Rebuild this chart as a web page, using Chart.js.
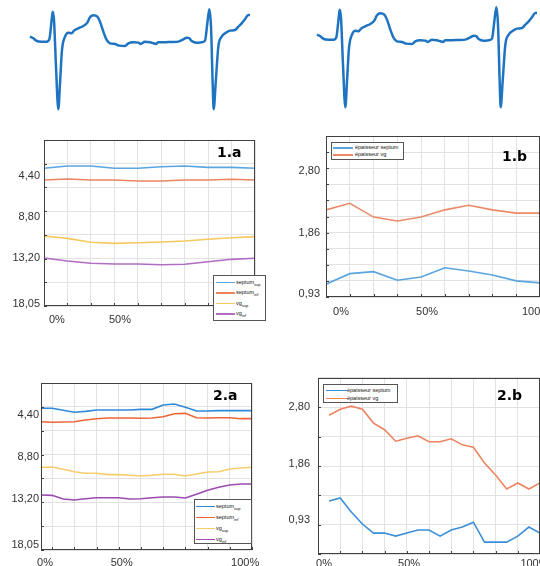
<!DOCTYPE html>
<html>
<head>
<meta charset="utf-8">
<script src="https://cdn.jsdelivr.net/npm/chart.js@4.4.0/dist/chart.umd.min.js"></script>
<style>
  body { margin: 0; background: #fff; overflow: hidden; }
  #page { position: relative; width: 540px; height: 566px; overflow: hidden; }
  .box { position: absolute; }
  .box canvas { display: block; }
  .tag { position: absolute; font: bold 14px 'DejaVu Sans'; line-height: 14px; color: #000; }
  .legend { position: absolute; box-sizing: border-box; background: #fff; border: 1px solid #555; }
  .legend .row { display: flex; align-items: center; white-space: nowrap; }
  .legend .sw { display: inline-block; height: 1.5px; }
  .legend .txt { font: 5.5px 'Liberation Sans'; line-height: 1; color: #111; }
  .legend sub { font-size: 4px; vertical-align: -1.5px; line-height: 0; }
</style>
</head>
<body>
<div id="page">
  <div class="box" style="left:20px;top:0"><canvas id="ecgLeft" width="240" height="120"></canvas></div>
  <div class="box" style="left:307px;top:-2px"><canvas id="ecgRight" width="240" height="120"></canvas></div>
  <div class="box" style="left:0;top:130px"><canvas id="chart1a" width="270" height="200"></canvas></div>
  <div class="box" style="left:270px;top:130px"><canvas id="chart1b" width="280" height="200"></canvas></div>
  <div class="box" style="left:0;top:370px"><canvas id="chart2a" width="270" height="210"></canvas></div>
  <div class="box" style="left:270px;top:370px"><canvas id="chart2b" width="280" height="210"></canvas></div>
  <div class="tag" style="left:217px;top:145px">1.a</div>
  <div class="tag" style="left:502px;top:149px">1.b</div>
  <div class="tag" style="left:213px;top:388px">2.a</div>
  <div class="tag" style="left:497px;top:388px">2.b</div>
  <div class="legend" id="leg1a"></div>
  <div class="legend" id="leg1b"></div>
  <div class="legend" id="leg2a"></div>
  <div class="legend" id="leg2b"></div>
</div>
<script>
// Tracé ECG (temps en ms, amplitude en mV)
const ecgTime = [0, 20, 40, 70, 100, 116, 130, 136, 144, 156, 170, 180, 192, 210, 230, 250, 264, 290, 320, 344,
  360, 380, 404, 420, 440, 460, 480, 510, 536, 570, 590, 620, 650, 664, 690, 720, 740, 756, 770, 800,
  830, 860, 890, 920, 940, 956, 970, 1000, 1030, 1050, 1064, 1076, 1086, 1096, 1102, 1114, 1130, 1150, 1180, 1200,
  1230, 1250, 1270, 1290, 1310, 1320];
const ecgAmp = [0.15, 0.10, 0.02, 0.00, 0.00, 0.07, 0.65, 0.90, 0.65, -0.75, -2.03, -1.25, -0.25, 0.15, 0.27, 0.25, 0.33, 0.40, 0.47, 0.57,
  0.73, 0.79, 0.75, 0.60, 0.30, 0.05, -0.05, -0.07, -0.12, -0.13, -0.05, -0.02, -0.03, -0.07, 0.00, -0.02, -0.05, -0.07, -0.02, -0.02,
  -0.01, -0.01, 0.00, 0.07, 0.12, 0.10, 0.02, -0.03, -0.02, 0.03, 0.55, 0.97, 0.45, -1.25, -2.03, -1.25, -0.15, 0.15, 0.28, 0.33,
  0.35, 0.45, 0.55, 0.67, 0.80, 0.80];

// Noms des séries
const contourNames = ['septum_sup', 'septum_inf', 'vg_sup', 'vg_inf'];
const thickNames = ['épaisseur septum', 'épaisseur vg'];

// 1.a
const septumSup1 = [3.62, 3.38, 3.38, 3.62, 3.62, 3.45, 3.38, 3.52, 3.52, 3.62];
const septumInf1 = [4.87, 4.76, 4.87, 4.87, 4.97, 4.97, 4.87, 4.87, 4.79, 4.87];
const vgSup1 = [10.82, 11.07, 11.49, 11.60, 11.53, 11.46, 11.35, 11.17, 11.00, 10.89];
const vgInf1 = [13.16, 13.48, 13.72, 13.80, 13.80, 13.87, 13.83, 13.55, 13.30, 13.19];

// 1.b
const septumEp1 = [1.08, 1.24, 1.27, 1.14, 1.19, 1.33, 1.28, 1.22, 1.13, 1.10];
const vgEp1 = [2.21, 2.31, 2.10, 2.04, 2.10, 2.21, 2.28, 2.21, 2.16, 2.16];

// 2.a
const septumSup2 = [3.67, 3.67, 3.88, 4.09, 3.99, 3.85, 3.85, 3.85, 3.85, 3.78, 3.78, 3.33, 3.22, 3.57, 3.96, 3.96, 3.92, 3.92, 3.92, 3.92];
const septumInf2 = [5.08, 5.14, 5.11, 5.08, 4.90, 4.76, 4.69, 4.69, 4.69, 4.72, 4.69, 4.55, 4.24, 4.20, 4.66, 4.69, 4.66, 4.66, 4.76, 4.76];
const vgSup2 = [9.86, 9.83, 10.07, 10.32, 10.49, 10.49, 10.63, 10.63, 10.70, 10.77, 10.70, 10.59, 10.59, 10.77, 10.56, 10.35, 10.32, 10.04, 9.93, 9.86];
const vgInf2 = [12.76, 12.80, 13.18, 13.29, 13.15, 13.05, 13.05, 13.05, 13.18, 13.15, 13.05, 12.97, 12.97, 13.08, 12.69, 12.27, 11.96, 11.72, 11.61, 11.61];

// 2.b
const septumEp2 = [1.25, 1.30, 1.07, 0.87, 0.72, 0.72, 0.67, 0.72, 0.77, 0.77, 0.67, 0.77, 0.82, 0.90, 0.57, 0.57, 0.57, 0.67, 0.82, 0.72];
const vgEp2 = [2.67, 2.77, 2.82, 2.77, 2.54, 2.43, 2.24, 2.29, 2.33, 2.23, 2.23, 2.28, 2.18, 2.14, 1.88, 1.68, 1.45, 1.55, 1.45, 1.55];

// Étiquettes des axes
const contourTicks = [4.40, 8.80, 13.20, 18.05];
const thickTicks = [2.80, 1.86, 0.93];
const pctLabels = ['0%', '50%', '100%'];

const fmt = v => v.toFixed(2).replace('.', ',');
const gridColor = '#e2e2e2';
const tickFont = { family: 'Liberation Sans', size: 11 };

// ECG
function makeEcg(id) {
    return new Chart(document.getElementById(id), {
        type: 'line',
        data: {
            datasets: [{
                data: ecgTime.map((t, i) => ({ x: t, y: ecgAmp[i] })),
                borderColor: '#1f74c2',
                borderWidth: 2.5,
                pointRadius: 0,
                cubicInterpolationMode: 'monotone',
                clip: false
            }]
        },
        options: {
            responsive: false,
            animation: false,
            layout: { padding: { left: 10, right: 10, top: 9.3, bottom: 10.7 } },
            plugins: { legend: { display: false }, tooltip: { enabled: false } },
            scales: {
                x: { type: 'linear', display: false, min: 0, max: 1320 },
                y: { type: 'linear', display: false, min: -2.03, max: 0.97 }
            }
        }
    });
}
makeEcg('ecgLeft');
makeEcg('ecgRight');

// Cadre + petites graduations
const framePlugin = {
    id: 'frame',
    afterDraw(chart) {
        const { ctx, chartArea: a, scales } = chart;
        ctx.save();
        ctx.strokeStyle = '#404040';
        ctx.lineWidth = 1;
        const l = Math.round(a.left), t = Math.round(a.top), r = Math.round(a.right), b = Math.round(a.bottom);
        ctx.strokeRect(l + 0.5, t + 0.5, r - l - 1, b - t - 1);
        ctx.beginPath();
        scales.x.ticks.forEach(tk => {
            const px = Math.round(scales.x.getPixelForValue(tk.value)) + 0.5;
            ctx.moveTo(px, b); ctx.lineTo(px, b - 3);
        });
        scales.y.ticks.forEach(tk => {
            const py = Math.round(scales.y.getPixelForValue(tk.value)) + 0.5;
            ctx.moveTo(l, py); ctx.lineTo(l + 3, py);
        });
        ctx.stroke();
        ctx.restore();
    }
};

function makePanel(id, p) {
    const canvas = document.getElementById(id);
    const W = canvas.width, H = canvas.height;
    const a = p.area;
    const yGrid = [];
    for (let i = 0; i <= p.yDiv; i++) yGrid.push(p.yMin + i * (p.yMax - p.yMin) / p.yDiv);
    return new Chart(canvas, {
        type: 'line',
        data: {
            datasets: p.series.map((vals, i) => ({
                label: p.names[i],
                data: vals.map((v, k) => ({ x: k, y: v })),
                borderColor: p.colors[i],
                borderWidth: 1.6,
                pointRadius: 0,
                tension: 0,
                fill: false
            }))
        },
        options: {
            responsive: false,
            animation: false,
            layout: { padding: { left: 0, top: a.t, right: W - a.r, bottom: 0 } },
            plugins: { legend: { display: false }, tooltip: { enabled: false } },
            scales: {
                x: {
                    type: 'linear', position: 'bottom', min: p.xMin, max: p.xMax,
                    grid: { color: gridColor, drawTicks: false },
                    border: { display: false },
                    ticks: { display: false },
                    afterBuildTicks: s => { s.ticks = p.xGrid.map(v => ({ value: v })); },
                    afterFit: s => { s.height = 0; s.paddingLeft = 0; s.paddingRight = 0; }
                },
                xl: {
                    type: 'linear', position: 'bottom', min: p.xMin, max: p.xMax,
                    grid: { display: false, drawTicks: false },
                    border: { display: false },
                    ticks: {
                        font: tickFont, color: '#333', padding: p.xPad,
                        autoSkip: false, maxRotation: 0,
                        callback: (v, i) => pctLabels[i]
                    },
                    afterBuildTicks: s => { s.ticks = p.xLabelPos.map(v => ({ value: v })); },
                    afterFit: s => { s.height = H - a.b; s.paddingLeft = 0; s.paddingRight = 0; }
                },
                y: {
                    type: 'linear', position: 'left', min: p.yMin, max: p.yMax, reverse: p.reverse,
                    grid: { color: gridColor, drawTicks: false },
                    border: { display: false },
                    ticks: { display: false },
                    afterBuildTicks: s => { s.ticks = yGrid.map(v => ({ value: v })); },
                    afterFit: s => { s.width = 0; s.paddingTop = 0; s.paddingBottom = 0; }
                },
                yl: {
                    type: 'linear', position: 'left', min: p.yMin, max: p.yMax, reverse: p.reverse,
                    grid: { display: false, drawTicks: false },
                    border: { display: false },
                    ticks: { font: tickFont, color: '#333', padding: p.yPad, autoSkip: false, callback: v => fmt(v) },
                    afterBuildTicks: s => { s.ticks = p.yTicks.map(v => ({ value: v })); },
                    afterFit: s => { s.width = a.l; s.paddingTop = 0; s.paddingBottom = 0; }
                }
            }
        },
        plugins: [framePlugin]
    });
}

// Légende HTML construite depuis les datasets
function buildLegend(chart, id, cfg) {
    const el = document.getElementById(id);
    Object.assign(el.style, {
        left: cfg.left + 'px', top: cfg.top + 'px', width: cfg.width + 'px', height: cfg.height + 'px',
        paddingTop: cfg.padTop + 'px', paddingLeft: cfg.padLeft + 'px'
    });
    chart.data.datasets.forEach(ds => {
        const row = document.createElement('div');
        row.className = 'row';
        row.style.height = cfg.rowH + 'px';
        const sw = document.createElement('span');
        sw.className = 'sw';
        sw.style.width = cfg.swW + 'px';
        sw.style.marginRight = cfg.gap + 'px';
        sw.style.background = ds.borderColor;
        const txt = document.createElement('span');
        txt.className = 'txt';
        const parts = ds.label.split('_');
        txt.appendChild(document.createTextNode(parts[0]));
        if (parts[1]) {
            const sub = document.createElement('sub');
            sub.textContent = parts[1];
            txt.appendChild(sub);
        }
        row.appendChild(sw);
        row.appendChild(txt);
        el.appendChild(row);
    });
}

const chart1a = makePanel('chart1a', {
    series: [septumSup1, septumInf1, vgSup1, vgInf1], names: contourNames,
    colors: ['#5aa6e2', '#ec8461', '#f6c95e', '#b16dc3'],
    area: { l: 44, t: 10, r: 255, b: 176 },
    xMin: 0, xMax: 9, xGrid: [0, 1, 2, 3, 4, 5, 6, 7, 8, 9], xLabelPos: [0.55, 3.24], xPad: 7,
    yMin: 0.614, yMax: 18.262, yDiv: 7, reverse: true, yTicks: contourTicks, yPad: 4
});
const chart1b = makePanel('chart1b', {
    series: [septumEp1, vgEp1], names: thickNames,
    colors: ['#5aa5df', '#ec8a68'],
    area: { l: 56, t: 6, r: 270, b: 167 },
    xMin: 0, xMax: 9, xGrid: [0, 1, 2, 3, 4, 5, 6, 7, 8, 9], xLabelPos: [0.63, 4.25, 8.83], xPad: 8,
    yMin: 0.885, yMax: 3.333, yDiv: 10, reverse: false, yTicks: thickTicks, yPad: 6
});
const chart2a = makePanel('chart2a', {
    series: [septumSup2, septumInf2, vgSup2, vgInf2], names: contourNames,
    colors: ['#3089d6', '#ee6535', '#f7cd6c', '#9c4bb1'],
    area: { l: 41, t: 13, r: 252, b: 180 },
    xMin: 0, xMax: 19, xGrid: [1, 3, 5, 7, 9, 11, 13, 15, 17, 19], xLabelPos: [0.36, 7.27, 18.38], xPad: 6,
    yMin: 1.019, yMax: 18.532, yDiv: 7, reverse: true, yTicks: contourTicks, yPad: 2
});
const chart2b = makePanel('chart2b', {
    series: [septumEp2, vgEp2], names: thickNames,
    colors: ['#3a8fd8', '#ee8460'],
    area: { l: 48, t: 8, r: 270, b: 184 },
    xMin: -1, xMax: 19, xGrid: [1, 3, 5, 7, 9, 11, 13, 15, 17, 19], xLabelPos: [-0.46, 7.2, 18.5], xPad: 3,
    yMin: 0.374, yMax: 3.286, yDiv: 6, reverse: false, yTicks: thickTicks, yPad: 8
});

buildLegend(chart1a, 'leg1a', { left: 213, top: 275, width: 53, height: 46, padTop: 1, padLeft: 2, rowH: 10.5, swW: 19, gap: 1 });
buildLegend(chart1b, 'leg1b', { left: 331, top: 142, width: 73, height: 18, padTop: 1.5, padLeft: 1, rowH: 7, swW: 20, gap: 2 });
buildLegend(chart2a, 'leg2a', { left: 194, top: 499, width: 58, height: 45, padTop: 1, padLeft: 1, rowH: 11, swW: 19, gap: 1 });
buildLegend(chart2b, 'leg2b', { left: 323, top: 384, width: 75, height: 19, padTop: 1.5, padLeft: 2, rowH: 8, swW: 21, gap: 0 });
</script>
</body>
</html>
